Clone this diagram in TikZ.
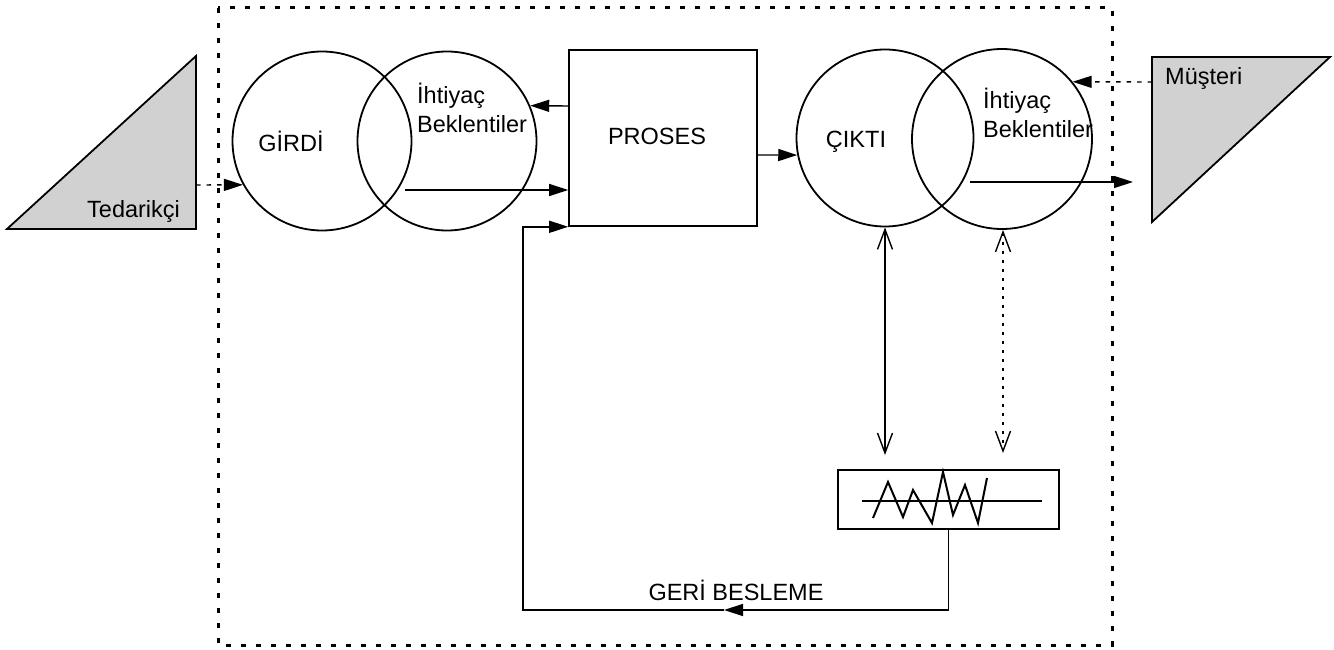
\documentclass[tikz,border=0pt]{standalone}
\usepackage{fontspec}
\setmainfont{Liberation Sans}
\usetikzlibrary{arrows.meta}
\begin{document}
\begin{tikzpicture}[x=1pt,y=-1pt,
  every node/.style={font=\fontsize{23.5}{28}\selectfont},
  ring/.style={circle,draw,line width=1.8pt,inner sep=0pt},
  boxnode/.style={draw,line width=1.6pt,inner sep=0pt},
  lbl/.style={inner sep=0pt},
  party/.style={fill=black!18,draw,line width=1.8pt,line join=miter},
  frameline/.style={line width=3pt,dash pattern=on 5pt off 10pt},
  arr/.style={line width=1.4pt,-{Triangle[length=19pt,width=12pt]}},
  darr/.style={arr,dash pattern=on 4.5pt off 6pt},
  barbs/.style={line width=1.4pt,{Straight Barb[length=20pt,width=15pt]}-{Straight Barb[length=20pt,width=15pt]}},
  dotbarbs/.style={barbs,dash pattern=on 3pt off 6pt},
  wave/.style={line width=2pt,line join=miter}
]
\useasboundingbox (0,0) rectangle (1334,650);

% system boundary
\draw[frameline] (218,8) rectangle (1112,645);

% supplier and customer
\draw[party] (7,229) -- (196,56) -- (196,229) -- cycle;
\node[lbl,anchor=base west] (ted) at (87,218) {Tedarikçi};
\draw[party] (1152,57) -- (1330,57) -- (1152,222) -- cycle;
\node[lbl,anchor=base west] (mus) at (1165,85) {Müşteri};

% input and output circles
\node[ring,minimum size=179pt] (girdi) at (322,141) {};
\node[ring,minimum size=179pt] (ihtL) at (447,141) {};
\node[ring,minimum size=177pt] (cikti) at (885,138) {};
\node[ring,minimum size=180pt] (ihtR) at (1002,139) {};
\node[lbl] (girdiT) at (291,141.5) {GİRDİ};
\node[lbl,anchor=base west] (ihtL1) at (417,104) {İhtiyaç};
\node[lbl,anchor=base west] (ihtL2) at (417,133) {Beklentiler};
\node[lbl] (ciktiT) at (856,141.5) {ÇIKTI};
\node[lbl,anchor=base west] (ihtR1) at (983,109) {İhtiyaç};
\node[lbl,anchor=base west] (ihtR2) at (983,138) {Beklentiler};

% process
\node[boxnode,minimum width=188pt,minimum height=176pt] (proses) at (663,138) {};
\node[lbl] (prosesT) at (657,136) {PROSES};

% measuring instrument
\node[boxnode,minimum width=221pt,minimum height=59pt] (meter) at (948.5,499.5) {};
\draw[wave] (862,501) -- (1042,501);
\draw[wave] (873,518) -- (888,482) -- (903,517) -- (913,490) -- (932,523)
  -- (943,472) -- (953,515) -- (965,485) -- (978,523) -- (987,478);

% free ends
\coordinate (tedOut) at (196,185);
\coordinate (musOut) at (1152,82);
\coordinate (ihtLOut) at (405,190);
\coordinate (ihtROut) at (970,182);
\coordinate (custIn) at (1133,182);
\coordinate (m1) at (885,455);
\coordinate (m2) at (1003,453);
\coordinate (fbR) at (948,610);
\coordinate (fbMid) at (724,610);
\coordinate (fbL) at (523,610);

% flows
\draw[darr] (tedOut) -- (girdi.209);
\draw[darr] (musOut) -- (ihtR.39);
\draw[arr] (ihtLOut) -- (ihtLOut -| proses.west);
\draw[arr] ([yshift=32pt]proses.west) -- (ihtL.23);
\draw[arr] ([yshift=-17pt]proses.east) -- (cikti.191);
\draw[arr] (ihtROut) -- (custIn);
\draw[barbs] (cikti.south) -- (m1);
\draw[dotbarbs] (ihtR.south -| m2) -- (m2);

% feedback loop
\draw[arr] (meter.south) |- (fbMid);
\draw[arr] (fbMid) -- (fbL) -- (fbL |- proses.south west) -- (proses.south west);
\node[lbl] (fbT) at (736,590) {GERİ BESLEME};
\end{tikzpicture}
\end{document}
